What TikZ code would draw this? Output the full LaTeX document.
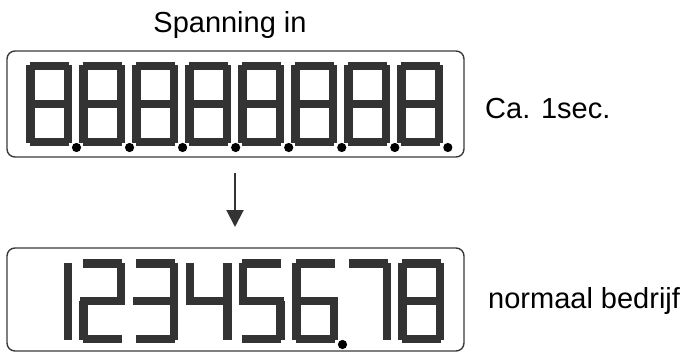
\documentclass[tikz,border=0pt]{standalone}
\usepackage{fontspec}
\setmainfont{Liberation Sans}
\usetikzlibrary{arrows.meta}
\definecolor{segc}{HTML}{333333}
\definecolor{boxc}{HTML}{3A3A3A}
\tikzset{
  seg/.style={fill=segc},
  dispbox/.style={draw=boxc, line width=1.4pt, rounded corners=8pt, inner sep=0pt, minimum width=457pt},
  lbl/.style={inner sep=0pt, font=\fontsize{29}{34}\selectfont, text=black},
  downarrow/.style={draw=segc, line width=2pt, -{Triangle[width=17pt,length=17pt]}}
}
\newcommand\dsega{\fill[seg] (3.5,0) rectangle (42.5,8.5);}
\newcommand\dsegb{\fill[seg] (37.5,3.5) rectangle (46,42);}
\newcommand\dsegc{\fill[seg] (37.5,42) rectangle (46,80.5);}
\newcommand\dsegd{\fill[seg] (3.5,75.5) rectangle (42.5,84);}
\newcommand\dsege{\fill[seg] (0,42) rectangle (8.5,80.5);}
\newcommand\dsegf{\fill[seg] (0,3.5) rectangle (8.5,42);}
\newcommand\dsegg{\fill[seg] (0.5,38) rectangle (45.5,46);}
\newcommand\dsegp{\fill[black] (50.5,85.5) circle (4.6);}
\newcommand\sevdigit[3]{%
  \begin{scope}[shift={(#1,#2)}]
    \foreach \s in {#3}{\csname dseg\s\endcsname}
  \end{scope}}
\begin{document}
\begin{tikzpicture}[x=1pt,y=-1pt]
  \useasboundingbox (0,0) rectangle (685,353);
  % boxes
  \node[dispbox, minimum height=106pt] (topbox) at (235.5,104) {};
  \node[dispbox, minimum height=103pt] (botbox) at (235.5,299.5) {};
  % top display: all segments and points
  \foreach \i in {0,...,7}{
    \pgfmathsetmacro\L{26+53.05*\i}
    \sevdigit{\L}{62}{a,b,c,d,e,f,g,p}
  }
  % bottom display: 1 2 3 4 5 6. 7 8
  \sevdigit{26}{259}{b,c}
  \sevdigit{79.2}{259}{a,b,g,e,d}
  \sevdigit{132.4}{259}{a,b,g,c,d}
  \sevdigit{185.6}{259}{f,g,b,c}
  \sevdigit{238.8}{259}{a,f,g,c,d}
  \sevdigit{292}{259}{a,f,g,e,c,d,p}
  \sevdigit{345.2}{259}{a,b,c}
  \sevdigit{398.4}{259}{a,b,c,d,e,f,g}
  % labels
  \node[lbl, anchor=base] (spanning) at (230,33) {Spanning in};
  \node[lbl, anchor=base west] (ca) at (485,118) {Ca. 1sec.};
  \node[lbl, anchor=base west] (normaal) at (488,308) {normaal bedrijf};
  % arrow
  \coordinate (astart) at (235,173);
  \coordinate (aend) at (235,227);
  \draw[downarrow] (astart) -- (aend);
\end{tikzpicture}
\end{document}
